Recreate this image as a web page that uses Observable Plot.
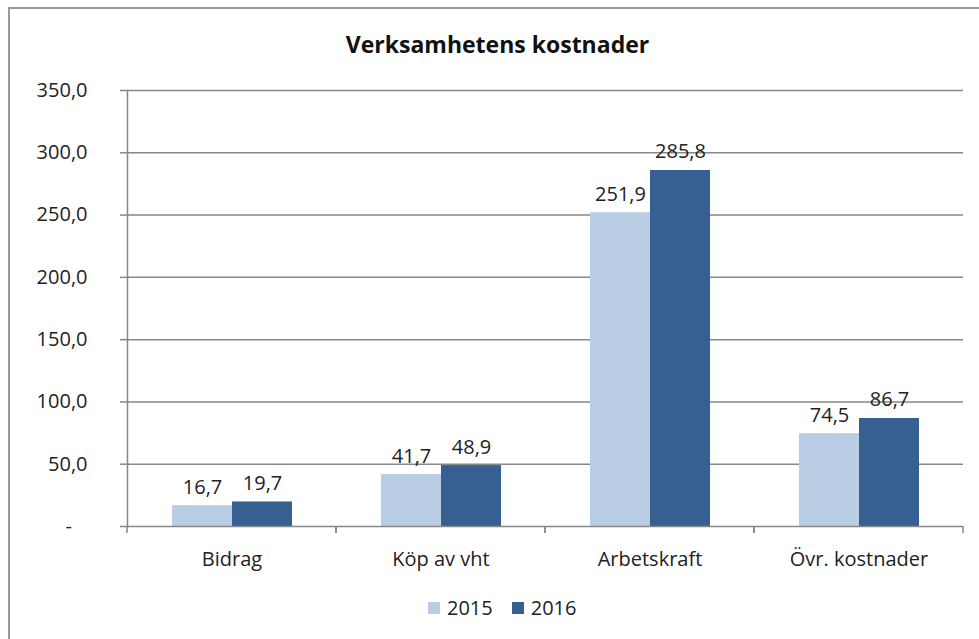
<!DOCTYPE html>
<html>
<head>
<meta charset="utf-8">
<script src="https://cdn.jsdelivr.net/npm/d3@7"></script>
<script src="https://cdn.jsdelivr.net/npm/@observablehq/plot@0.6"></script>
<style>
  html, body { margin: 0; padding: 0; background: #fff; }
  body { width: 979px; height: 639px; position: relative; overflow: hidden; font-family: "Open Sans", sans-serif; }
  #box { position: absolute; left: 8px; top: 7px; width: 1000px; height: 700px; border: 2px solid #9a9a9a; box-sizing: border-box; }
  #title { position: absolute; left: 0; width: 995px; top: 28px; text-align: center; font-weight: bold; font-size: 23px; color: #111; }
  #chart { position: absolute; left: 0; top: 0; }
  #legend { position: absolute; top: 594px; left: 428px; display: flex; align-items: center; font-size: 20px; color: #222; }
  #legend .sw { width: 12px; height: 12px; display: inline-block; margin-right: 7px; }
  #legend .item { display: flex; align-items: center; margin-right: 19px; }
</style>
</head>
<body>
<div id="box"></div>
<div id="title">Verksamhetens kostnader</div>
<div id="chart"></div>
<div id="legend"></div>
<script>
const categories = ["Bidrag", "Köp av vht", "Arbetskraft", "Övr. kostnader"];
const years = ["2015", "2016"];
const values2015 = [16.7, 41.7, 251.9, 74.5];
const values2016 = [19.7, 48.9, 285.8, 86.7];
const yTicks = [0, 50, 100, 150, 200, 250, 300, 350];
const colors = ["#B9CDE5", "#376092"];
const axisColor = "#878787";

const data = categories.flatMap((c, i) => [
  {category: c, year: years[0], value: values2015[i]},
  {category: c, year: years[1], value: values2016[i]}
]);

const fmt = d => d.toFixed(1).replace(".", ",");
const yFmt = d => d === 0 ? "-\u00a0\u00a0\u00a0" : fmt(d);

const boundaryTicks = (index, scales) => {
  const {x, y} = scales;
  const [x0, x1] = x.range();
  const y0 = y(0);
  const g = d3.create("svg:g").attr("stroke", axisColor).attr("stroke-width", 1.5);
  for (const xx of [x0, x1]) {
    g.append("line").attr("x1", xx).attr("x2", xx).attr("y1", y0).attr("y2", y0 + 7);
  }
  return g.node();
};

const chart = Plot.plot({
  width: 979,
  height: 639,
  marginLeft: 127,
  marginRight: 16,
  marginTop: 90,
  marginBottom: 113,
  style: {fontFamily: "Open Sans", fontSize: "20px", color: "#222", background: "transparent"},
  fx: {domain: categories, padding: 0, label: null, axis: null},
  x: {domain: years, paddingInner: 0, paddingOuter: 0.74, axis: null},
  y: {domain: [0, 350], label: null},
  color: {domain: years, range: colors},
  marks: [
    Plot.gridY(yTicks.filter(d => d > 0), {stroke: axisColor, strokeOpacity: 1, strokeWidth: 1.5}),
    Plot.barY(data, {fx: "category", x: "year", y: "value", fill: "year"}),
    Plot.text(data, {fx: "category", x: "year", y: "value", text: d => fmt(d.value), lineAnchor: "bottom", dy: -12, fill: "#222"}),
    Plot.ruleY([0], {stroke: axisColor, strokeWidth: 1.5}),
    Plot.frame({anchor: "left", facetAnchor: "left", stroke: axisColor, strokeWidth: 1.5}),
    Plot.axisY(yTicks, {tickSize: 7, tickPadding: 33, tickFormat: yFmt, stroke: axisColor, strokeWidth: 1.5, fill: "#222", label: null}),
    Plot.axisFx({anchor: "bottom", tickSize: 0, tickPadding: 25, label: null, fill: "#222"}),
    boundaryTicks
  ]
});
document.getElementById("chart").appendChild(chart);

const legend = d3.select("#legend");
years.forEach((yr, i) => {
  const item = legend.append("div").attr("class", "item");
  item.append("span").attr("class", "sw").style("background", colors[i]);
  item.append("span").text(yr);
});
</script>
</body>
</html>
